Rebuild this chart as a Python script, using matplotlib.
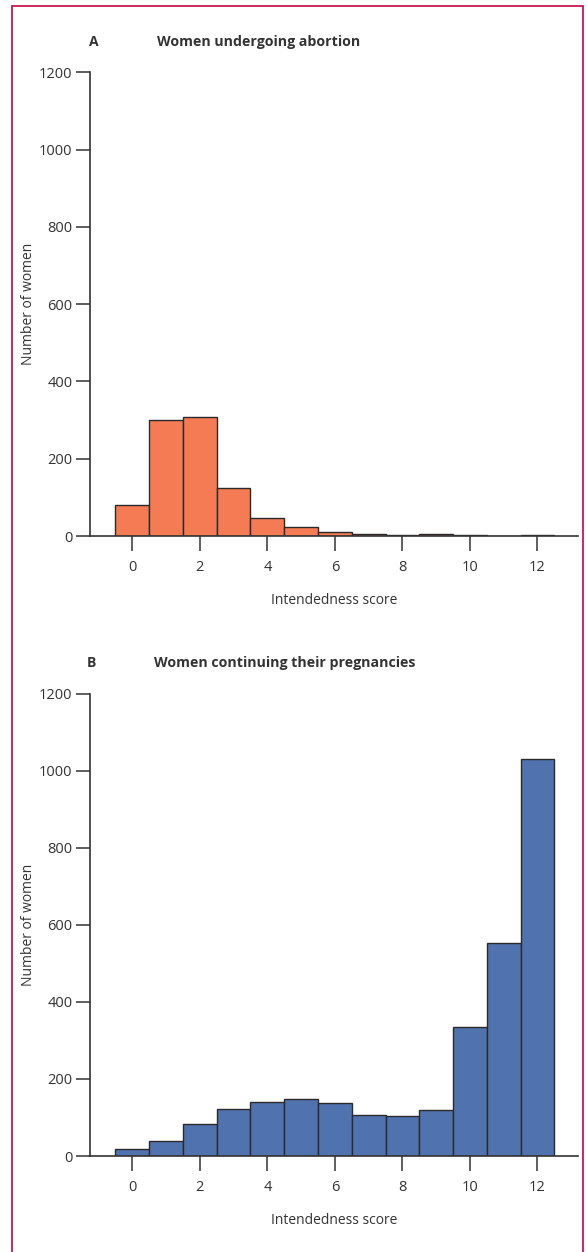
import matplotlib
matplotlib.use("Agg")
import matplotlib.pyplot as plt
from matplotlib.patches import Rectangle

plt.rcParams['font.family'] = ['Open Sans', 'DejaVu Sans']

# Datos
scores = list(range(13))
abortion_counts = [80, 300, 308, 125, 46, 24, 11, 5, 2, 5, 2, 0, 2]
continuing_counts = [17, 38, 83, 122, 141, 147, 137, 107, 105, 119, 334, 552, 1029]
y_ticks = [0, 200, 400, 600, 800, 1000, 1200]
x_ticks = [0, 2, 4, 6, 8, 10, 12]

W, H = 587, 1252
TEXT = '#333333'


def fx(px):
    return px / W


def fy(py):
    return 1 - py / H


def draw_panel(ax, counts, color):
    ax.bar(scores, counts, width=1.0, color=color, edgecolor='#2a2a2a', linewidth=1.0)
    ax.set_xlim(-1.24, 13.2)
    ax.set_ylim(0, 1200)
    ax.set_xticks(x_ticks)
    ax.set_yticks(y_ticks)
    for side in ['top', 'right']:
        ax.spines[side].set_visible(False)
    for side in ['left', 'bottom']:
        ax.spines[side].set_color(TEXT)
        ax.spines[side].set_linewidth(1.2)
    ax.tick_params(axis='x', direction='out', length=11, width=1.1, color=TEXT,
                   labelcolor=TEXT, labelsize=10.5, pad=6)
    ax.tick_params(axis='y', direction='out', length=10, width=1.1, color=TEXT,
                   labelcolor=TEXT, labelsize=10.5, pad=3)
    ax.set_ylabel('Number of women', color=TEXT, fontsize=10, labelpad=2)
    ax.set_xlabel('Intendedness score', color=TEXT, fontsize=10, labelpad=13)


fig = plt.figure(figsize=(W / 100, H / 100), dpi=100)

ax_a = fig.add_axes([fx(90.4), fy(536), fx(578) - fx(90.4), fy(72.3) - fy(536)])
draw_panel(ax_a, abortion_counts, '#f47b53')

ax_b = fig.add_axes([fx(90.4), fy(1156), fx(578) - fx(90.4), fy(693.5) - fy(1156)])
draw_panel(ax_b, continuing_counts, '#5073b0')

# Letras y titulos de los paneles
fig.text(fx(89), fy(42), 'A', fontsize=10, fontweight='bold', color=TEXT, va='center')
fig.text(fx(157), fy(42), 'Women undergoing abortion', fontsize=10.2, fontweight='bold',
         color=TEXT, va='center')
fig.text(fx(87), fy(663), 'B', fontsize=10, fontweight='bold', color=TEXT, va='center')
fig.text(fx(154), fy(663), 'Women continuing their pregnancies', fontsize=10.2,
         fontweight='bold', color=TEXT, va='center')

# Marco rosado alrededor de la figura
fig.patches.append(Rectangle((fx(12), -0.01), fx(583) - fx(12), fy(5.7) + 0.01,
                             transform=fig.transFigure, fill=False,
                             edgecolor='#c8174f', linewidth=1.3))

fig.savefig('out.png', dpi=100)
